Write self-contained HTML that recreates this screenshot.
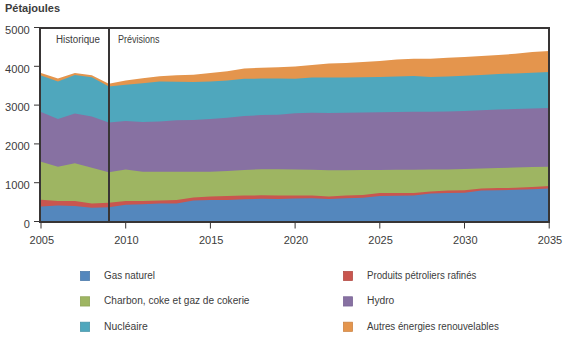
<!DOCTYPE html>
<html><head><meta charset="utf-8">
<style>
html,body{margin:0;padding:0;background:#fff;}
body{width:580px;height:339px;overflow:hidden;}
svg{display:block;}
text{font-family:"Liberation Sans", sans-serif;fill:#3c3c3c;}
</style></head><body>
<svg width="580" height="339" viewBox="0 0 580 339">
<rect width="580" height="339" fill="#fff"/>
<path d="M41.00,73.10 L57.94,78.60 L74.88,73.10 L91.82,75.20 L108.76,83.70 L125.70,80.40 L142.64,78.30 L159.58,76.30 L176.52,75.20 L193.46,74.70 L210.40,72.90 L227.34,71.30 L244.28,68.50 L261.22,67.80 L278.16,67.20 L295.10,66.60 L312.04,64.90 L328.98,63.50 L345.92,62.90 L362.86,62.00 L379.80,60.90 L396.74,59.50 L413.68,58.80 L430.62,58.80 L447.56,57.80 L464.50,57.10 L481.44,56.10 L498.38,54.90 L515.32,53.80 L532.26,52.10 L549.20,51.00 L549.20,222.00 L41.00,222.00 Z" fill="#e4954d"/><path d="M41.00,75.60 L57.94,81.40 L74.88,74.90 L91.82,77.20 L108.76,86.50 L125.70,84.80 L142.64,83.20 L159.58,81.40 L176.52,81.80 L193.46,82.00 L210.40,81.50 L227.34,80.50 L244.28,78.70 L261.22,78.60 L278.16,78.60 L295.10,78.70 L312.04,77.60 L328.98,77.60 L345.92,77.60 L362.86,77.20 L379.80,76.90 L396.74,76.50 L413.68,76.10 L430.62,76.90 L447.56,76.40 L464.50,75.80 L481.44,74.90 L498.38,74.10 L515.32,73.40 L532.26,72.70 L549.20,72.00 L549.20,222.00 L41.00,222.00 Z" fill="#4fa7bd"/><path d="M41.00,112.10 L57.94,119.00 L74.88,113.40 L91.82,116.60 L108.76,122.50 L125.70,121.00 L142.64,122.10 L159.58,121.40 L176.52,120.30 L193.46,119.90 L210.40,119.10 L227.34,117.80 L244.28,116.00 L261.22,115.10 L278.16,114.70 L295.10,113.30 L312.04,112.70 L328.98,112.90 L345.92,112.80 L362.86,112.50 L379.80,112.30 L396.74,112.10 L413.68,111.80 L430.62,111.70 L447.56,111.40 L464.50,111.00 L481.44,110.30 L498.38,109.60 L515.32,109.00 L532.26,108.60 L549.20,107.90 L549.20,222.00 L41.00,222.00 Z" fill="#8771a2"/><path d="M41.00,161.80 L57.94,166.70 L74.88,163.30 L91.82,167.80 L108.76,172.20 L125.70,169.60 L142.64,171.80 L159.58,171.70 L176.52,171.70 L193.46,171.70 L210.40,171.70 L227.34,171.10 L244.28,170.00 L261.22,169.30 L278.16,169.30 L295.10,169.60 L312.04,169.70 L328.98,170.30 L345.92,170.30 L362.86,170.10 L379.80,170.00 L396.74,169.80 L413.68,169.80 L430.62,169.60 L447.56,169.40 L464.50,169.10 L481.44,168.40 L498.38,168.00 L515.32,167.50 L532.26,167.10 L549.20,166.70 L549.20,222.00 L41.00,222.00 Z" fill="#9eb562"/><path d="M41.00,199.70 L57.94,201.00 L74.88,201.00 L91.82,203.50 L108.76,202.70 L125.70,201.10 L142.64,201.10 L159.58,200.40 L176.52,199.90 L193.46,197.60 L210.40,196.40 L227.34,196.00 L244.28,195.60 L261.22,195.30 L278.16,195.60 L295.10,195.60 L312.04,195.60 L328.98,196.60 L345.92,195.60 L362.86,194.90 L379.80,193.10 L396.74,193.00 L413.68,192.90 L430.62,191.60 L447.56,190.60 L464.50,190.20 L481.44,188.40 L498.38,188.10 L515.32,187.80 L532.26,187.10 L549.20,186.00 L549.20,222.00 L41.00,222.00 Z" fill="#c9564f"/><path d="M41.00,206.60 L57.94,205.60 L74.88,206.10 L91.82,207.70 L108.76,207.20 L125.70,204.70 L142.64,204.30 L159.58,203.60 L176.52,203.60 L193.46,200.50 L210.40,199.90 L227.34,199.90 L244.28,199.20 L261.22,198.80 L278.16,198.90 L295.10,198.60 L312.04,198.30 L328.98,199.00 L345.92,198.20 L362.86,197.70 L379.80,195.90 L396.74,195.80 L413.68,195.40 L430.62,193.60 L447.56,192.90 L464.50,192.70 L481.44,190.60 L498.38,190.20 L515.32,189.80 L532.26,189.20 L549.20,188.40 L549.20,222.00 L41.00,222.00 Z" fill="#5487bd"/>
<!-- frame -->
<rect x="39" y="27" width="511" height="2" fill="#383535"/>
<rect x="548" y="27" width="2" height="196" fill="#383535"/>
<rect x="39" y="27" width="2" height="196" fill="#383535"/>
<rect x="39" y="221" width="511" height="2" fill="#383535"/>
<rect x="108" y="27" width="2" height="196" fill="#383535"/>
<rect x="34" y="27.00" width="6" height="1" fill="#383535"/>
<text x="29.8" y="33.80" font-size="11" text-anchor="end" textLength="24.8" lengthAdjust="spacingAndGlyphs">5000</text>
<rect x="34" y="65.80" width="6" height="1" fill="#383535"/>
<text x="29.8" y="72.60" font-size="11" text-anchor="end" textLength="24.8" lengthAdjust="spacingAndGlyphs">4000</text>
<rect x="34" y="104.60" width="6" height="1" fill="#383535"/>
<text x="29.8" y="111.40" font-size="11" text-anchor="end" textLength="24.8" lengthAdjust="spacingAndGlyphs">3000</text>
<rect x="34" y="143.40" width="6" height="1" fill="#383535"/>
<text x="29.8" y="150.20" font-size="11" text-anchor="end" textLength="24.8" lengthAdjust="spacingAndGlyphs">2000</text>
<rect x="34" y="182.20" width="6" height="1" fill="#383535"/>
<text x="29.8" y="189.00" font-size="11" text-anchor="end" textLength="24.8" lengthAdjust="spacingAndGlyphs">1000</text>
<rect x="34" y="221.00" width="6" height="1" fill="#383535"/>
<text x="29.8" y="227.80" font-size="11" text-anchor="end">0</text>
<rect x="40.50" y="222" width="1" height="6.5" fill="#383535"/>
<text x="41.80" y="244" font-size="11" text-anchor="middle">2005</text>
<rect x="125.20" y="222" width="1" height="6.5" fill="#383535"/>
<text x="126.50" y="244" font-size="11" text-anchor="middle">2010</text>
<rect x="209.90" y="222" width="1" height="6.5" fill="#383535"/>
<text x="211.20" y="244" font-size="11" text-anchor="middle">2015</text>
<rect x="294.60" y="222" width="1" height="6.5" fill="#383535"/>
<text x="295.90" y="244" font-size="11" text-anchor="middle">2020</text>
<rect x="379.30" y="222" width="1" height="6.5" fill="#383535"/>
<text x="380.60" y="244" font-size="11" text-anchor="middle">2025</text>
<rect x="464.00" y="222" width="1" height="6.5" fill="#383535"/>
<text x="465.30" y="244" font-size="11" text-anchor="middle">2030</text>
<rect x="548.70" y="222" width="1" height="6.5" fill="#383535"/>
<text x="550.00" y="244" font-size="11" text-anchor="middle">2035</text>
<text x="5" y="12" font-size="11" font-weight="bold" fill="#222">Pétajoules</text>
<text x="56" y="42.6" font-size="10" textLength="44" lengthAdjust="spacingAndGlyphs">Historique</text>
<text x="118" y="42.6" font-size="10" textLength="41.5" lengthAdjust="spacingAndGlyphs">Prévisions</text>
<rect x="80.35" y="271.35" width="9.3" height="9.3" fill="#5487bd" stroke="#4a78a9" stroke-width="0.7"/>
<text x="104" y="279.00" font-size="10" textLength="51" lengthAdjust="spacingAndGlyphs">Gas naturel</text>
<rect x="80.35" y="296.75" width="9.3" height="9.3" fill="#9eb562" stroke="#8aa052" stroke-width="0.7"/>
<text x="104" y="304.40" font-size="10" textLength="145.5" lengthAdjust="spacingAndGlyphs">Charbon, coke et gaz de cokerie</text>
<rect x="80.35" y="322.15" width="9.3" height="9.3" fill="#4fa7bd" stroke="#4592a6" stroke-width="0.7"/>
<text x="104" y="329.80" font-size="10" textLength="43.8" lengthAdjust="spacingAndGlyphs">Nucléaire</text>
<rect x="343.35" y="271.35" width="9.3" height="9.3" fill="#c9564f" stroke="#b04a44" stroke-width="0.7"/>
<text x="367" y="279.00" font-size="10" textLength="109.4" lengthAdjust="spacingAndGlyphs">Produits pétroliers rafinés</text>
<rect x="343.35" y="296.75" width="9.3" height="9.3" fill="#8771a2" stroke="#776293" stroke-width="0.7"/>
<text x="367" y="304.40" font-size="10" textLength="27.3" lengthAdjust="spacingAndGlyphs">Hydro</text>
<rect x="343.35" y="322.15" width="9.3" height="9.3" fill="#e4954d" stroke="#c98040" stroke-width="0.7"/>
<text x="367" y="329.80" font-size="10" textLength="131.8" lengthAdjust="spacingAndGlyphs">Autres énergies renouvelables</text>
</svg></body></html>
